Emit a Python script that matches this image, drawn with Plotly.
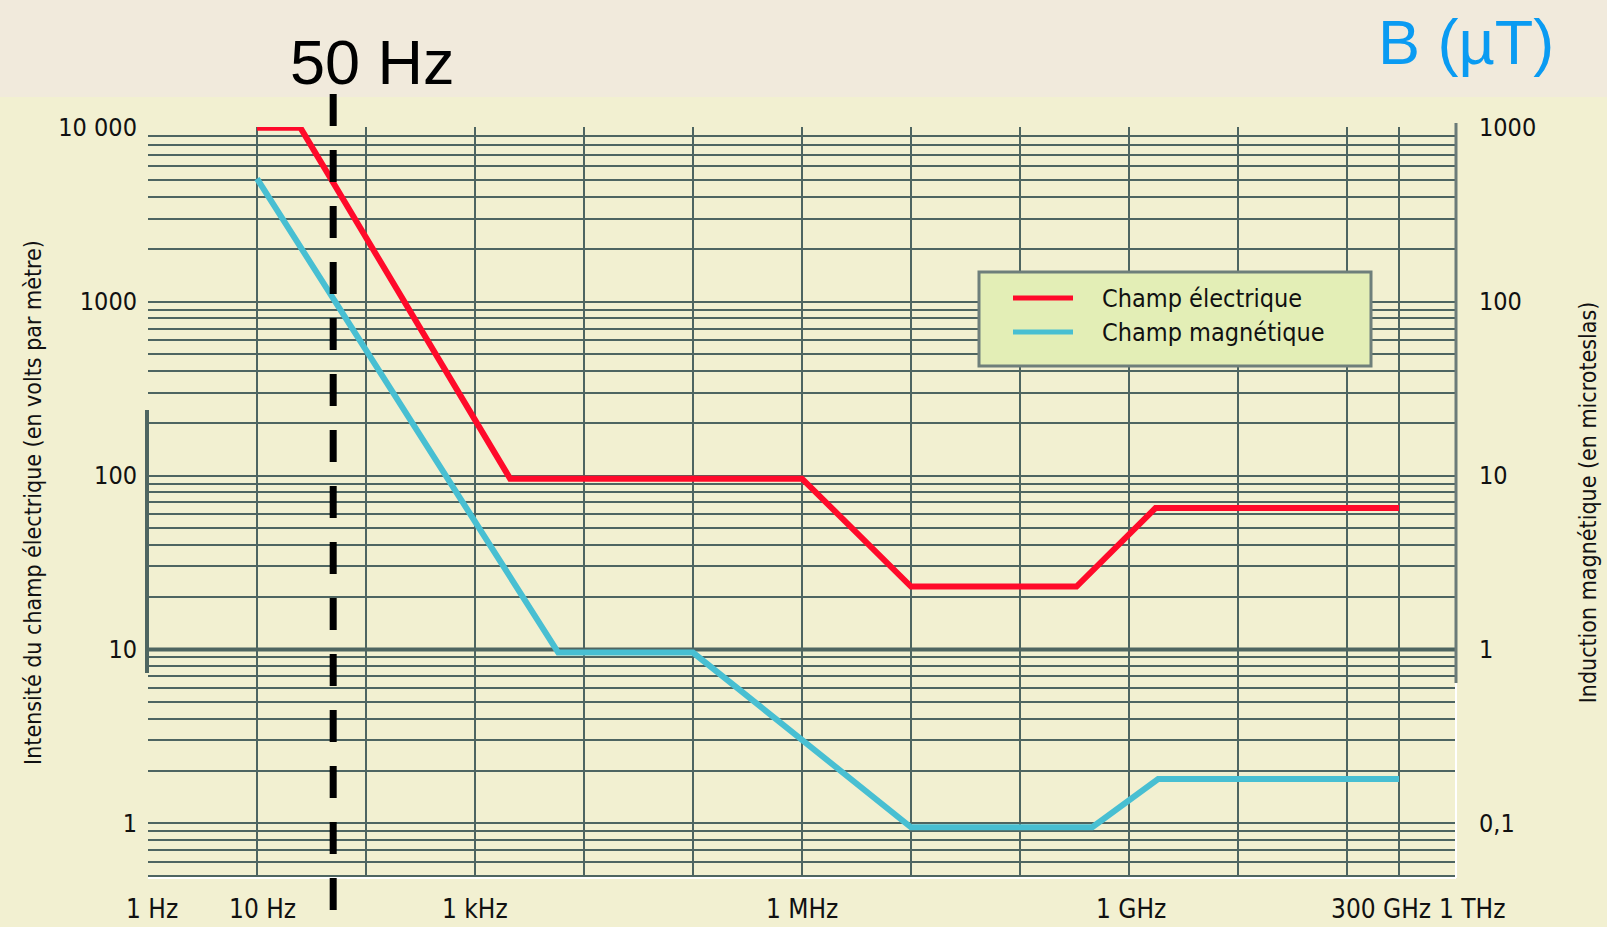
import plotly.graph_objects as go
import math

# ---------------- data ----------------
freq_E = [10, 25, 2.1e3, 1e6, 1e7, 3.3e8, 1.75e9, 3e11]          # Hz
E_vm = [10000, 10000, 96, 96, 23, 23, 65, 65]                     # V/m (left axis)
freq_B = [10, 5.8e3, 1e5, 1e7, 4.6e8, 1.85e9, 3e11]               # Hz
B_ut = [510, 0.96, 0.96, 0.095, 0.095, 0.18, 0.18]                # µT (right axis)

x_grid_vals = [1, 10, 1e2, 1e3, 1e4, 1e5, 1e6, 1e7, 1e8, 1e9, 1e10, 1e11, 3e11]
x_label_vals = [1, 10, 1e3, 1e6, 1e9, 3e11, 1e12]
x_label_text = ["1 Hz", "10 Hz", "1 kHz", "1 MHz", "1 GHz", "300 GHz", "1 THz"]
x_label_shift = [4, 5, 0, 0, 2, -18, 16]

yl_vals = [1, 10, 100, 1000, 10000]
yl_text = ["1", "10", "100", "1000", "10 000"]
yr_vals = [0.1, 1, 10, 100, 1000]
yr_text = ["0,1", "1", "10", "100", "1000"]

mark_freq = 50

# ---------------- layout geometry ----------------
W, H = 1607, 927
L, R, T, B = 148, 1456, 127, 878
PW, PH = R - L, B - T


def px(xp):
    return (xp - L) / PW


def py(yp):
    return (B - yp) / PH


FONT = "DejaVu Sans Condensed, Liberation Sans Narrow, sans-serif"
GRID = "#4E6561"
PANEL = "#F2F0D1"
BAND = "#F1EADC"
RED = "#FF0A2A"
BLUE = "#48BFD2"

fig = go.Figure()
fig.add_trace(go.Scatter(x=freq_E, y=E_vm, mode="lines", name="Champ électrique",
                         line=dict(color=RED, width=6), yaxis="y", showlegend=False))
fig.add_trace(go.Scatter(x=freq_B, y=B_ut, mode="lines", name="Champ magnétique",
                         line=dict(color=BLUE, width=6), yaxis="y2", showlegend=False))

ylo = -0.314
yhi = 4.0

fig.update_layout(
    width=W, height=H,
    margin=dict(l=L, r=W - R, t=T, b=H - B),
    paper_bgcolor=PANEL, plot_bgcolor=PANEL,
    font=dict(family=FONT, color="#111111"),
    xaxis=dict(type="log", range=[0, 12], tickvals=x_grid_vals, showticklabels=False,
               showgrid=True, gridcolor=GRID, gridwidth=2, zeroline=False,
               showline=False, ticks=""),
    yaxis=dict(type="log", range=[ylo, yhi + 0.004], tickvals=yl_vals, ticktext=yl_text,
               showgrid=True, gridcolor=GRID, gridwidth=2, zeroline=False,
               minor=dict(dtick="D1", showgrid=True, gridcolor=GRID, gridwidth=2, ticks=""),
               tickfont=dict(size=25, family=FONT, color="#111111"), ticks="",
               ticklabelstandoff=10, showline=False,
               title=dict(text="Intensité du champ électrique (en volts par mètre)",
                          font=dict(size=23, family=FONT, color="#111111"), standoff=10)),
    yaxis2=dict(type="log", range=[ylo - 1, yhi + 0.004 - 1], overlaying="y", side="right",
                tickvals=yr_vals, ticktext=yr_text, showgrid=False, zeroline=False,
                tickfont=dict(size=25, family=FONT, color="#111111"), ticks="",
                ticklabelstandoff=22, showline=False,
                title=dict(text="Induction magnétique (en microteslas)",
                           font=dict(size=23, family=FONT, color="#111111"), standoff=44)),
)

shapes = []
# top band
shapes.append(dict(type="rect", xref="paper", yref="paper", x0=-0.2, x1=1.2,
                   y0=py(97), y1=py(-5), fillcolor=BAND, line=dict(width=0), layer="below"))
# thicker decade line at 10 V/m
shapes.append(dict(type="line", xref="paper", yref="y", x0=0, x1=1, y0=10, y1=10,
                   line=dict(color=GRID, width=4), layer="below"))
# left thick axis segment
shapes.append(dict(type="line", xref="paper", yref="paper", x0=px(147), x1=px(147),
                   y0=py(410), y1=py(673), line=dict(color=GRID, width=4)))
# right axis line (upper gray, lower white)
shapes.append(dict(type="line", xref="paper", yref="paper", x0=1, x1=1,
                   y0=py(123), y1=py(683), line=dict(color="#6B7B78", width=3)))
shapes.append(dict(type="line", xref="paper", yref="paper", x0=1, x1=1,
                   y0=py(683), y1=0, line=dict(color="#FFFFFF", width=2)))
shapes.append(dict(type="line", xref="paper", yref="paper", x0=0, x1=1,
                   y0=0, y1=0, line=dict(color="#FFFFFF", width=2)))
# 50 Hz dashed marker
shapes.append(dict(type="line", xref="x", yref="paper", x0=mark_freq, x1=mark_freq,
                   y0=py(94), y1=py(912), line=dict(color="#000000", width=7, dash="32px,24px")))
# legend box
shapes.append(dict(type="rect", xref="paper", yref="paper", x0=px(979), x1=px(1371),
                   y0=py(366), y1=py(272), fillcolor="#E3EEB6",
                   line=dict(color="#6E7F7B", width=3)))
shapes.append(dict(type="line", xref="paper", yref="paper", x0=px(1013), x1=px(1073),
                   y0=py(298), y1=py(298), line=dict(color=RED, width=5)))
shapes.append(dict(type="line", xref="paper", yref="paper", x0=px(1013), x1=px(1073),
                   y0=py(332), y1=py(332), line=dict(color=BLUE, width=5)))
fig.update_layout(shapes=shapes)

ann = []
for v, t, s in zip(x_label_vals, x_label_text, x_label_shift):
    ann.append(dict(x=math.log10(v), xref="x", y=py(909), yref="paper", text=t,
                    showarrow=False, xanchor="center", yanchor="middle", xshift=s,
                    font=dict(size=26, family=FONT, color="#111111")))
ann.append(dict(x=px(1100), y=py(298), xref="paper", yref="paper", text="Champ électrique",
                showarrow=False, xanchor="left", yanchor="middle",
                font=dict(size=25, family=FONT, color="#111111")))
ann.append(dict(x=px(1100), y=py(332), xref="paper", yref="paper", text="Champ magnétique",
                showarrow=False, xanchor="left", yanchor="middle",
                font=dict(size=25, family=FONT, color="#111111")))
ann.append(dict(x=px(372), y=py(62), xref="paper", yref="paper", text="50 Hz",
                showarrow=False, xanchor="center", yanchor="middle",
                font=dict(size=63, family="Liberation Sans, Arial, sans-serif", color="#000000")))
ann.append(dict(x=px(1466), y=py(42), xref="paper", yref="paper", text="B (µT)",
                showarrow=False, xanchor="center", yanchor="middle",
                font=dict(size=63, family="Liberation Sans, Arial, sans-serif", color="#0A9BF2")))
fig.update_layout(annotations=ann)

fig.write_html("out.html",
               config={"displayModeBar": False},
               post_script="document.body.style.margin='0';document.body.style.padding='0';"
                           "document.body.style.background='" + PANEL + "';")
